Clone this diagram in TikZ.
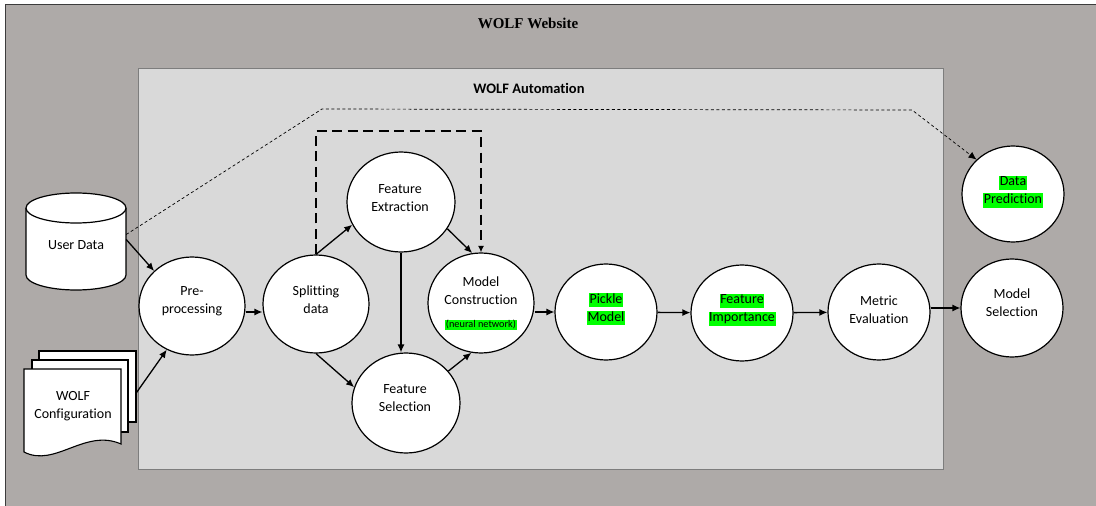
\documentclass[tikz,border=0pt]{standalone}
\usepackage{fontspec}
\setmainfont{Carlito}[Ligatures={NoCommon,NoRare}]
\newfontfamily\titlefont{Liberation Serif}
\usetikzlibrary{arrows.meta,fit,calc,shapes.geometric}

\definecolor{webgray}{RGB}{174,170,168}
\definecolor{autogray}{RGB}{217,217,217}
\definecolor{hlgreen}{RGB}{0,255,0}
\definecolor{frameline}{RGB}{60,60,60}
\definecolor{innerline}{RGB}{125,125,125}

% green text highlight, one box per line
\newcommand{\hl}[1]{{\setlength{\fboxsep}{0.6pt}\colorbox{hlgreen}{\rule[-3.7pt]{0pt}{12.2pt}#1}}}
\newcommand{\hlsmall}[1]{{\setlength{\fboxsep}{0.5pt}\colorbox{hlgreen}{\rule[-2pt]{0pt}{7pt}#1}}}

\begin{document}
\begin{tikzpicture}[x=1pt,y=-1pt,
  proc/.style={ellipse, draw=black, line width=1.2pt, fill=white, inner sep=0pt},
  txt/.style={align=center, font=\fontsize{14}{18}\selectfont, inner sep=0pt},
  arr/.style={-{Latex[length=8pt,width=7pt]}, line width=1.3pt},
  loopline/.style={line width=1.6pt, dash pattern=on 10pt off 5.5pt, -{Latex[length=6.5pt,width=6pt]}},
  webline/.style={line width=0.7pt, dash pattern=on 3pt off 2.5pt, -{Latex[length=8pt,width=7pt]}},
  docsheet/.style={draw=black, line width=1.1pt, fill=white}]

\useasboundingbox (0,0) rectangle (1096,506);
\clip (0,0) rectangle (1096,506);

% website frame and automation frame
\draw[frameline, line width=1pt, fill=webgray] (5,4) rectangle (1110,520);
\draw[innerline, line width=1pt, fill=autogray] (138,68) rectangle (943,469);

\node[font=\titlefont\bfseries\fontsize{15}{18}\selectfont] (webtitle) at (528,23) {WOLF Website};
\node[font=\bfseries\fontsize{14.5}{18}\selectfont] (autotitle) at (529,88) {WOLF Automation};

% user data cylinder
\fill[white] (26,208) rectangle (126,275);
\fill[white] (76,275) ellipse[x radius=50, y radius=15];
\draw[line width=1.2pt] (26,208) -- (26,275) arc[start angle=180, end angle=0, x radius=50, y radius=15] -- (126,208);
\draw[line width=1.2pt, fill=white] (76,208) ellipse[x radius=50, y radius=15];
\node[fit={(26,193) (126,290)}, inner sep=0pt] (userdata) {};
\node[txt] (userdata-t) at (76,245) {User Data};

% configuration document stack
\draw[docsheet] (39,351) rectangle (136,422);
\draw[docsheet] (32,360) rectangle (128,432);
\draw[docsheet] (24,369) -- (121,369) -- (121,444) .. controls (85,428) and (55,468) .. (24,452) -- cycle;
\node[fit={(24,351) (136,457)}, inner sep=0pt] (stack) {};
\node[txt] (stack-t) at (73,406) {WOLF\\Configuration};

% process ellipses
\node[proc, minimum width=106pt, minimum height=98pt] (pre) at (192,306) {};
\node[proc, minimum width=106pt, minimum height=98pt] (split) at (316,304) {};
\node[proc, minimum width=108pt, minimum height=100pt] (fext) at (401,202) {};
\node[proc, minimum width=106pt, minimum height=100pt] (mcon) at (481,303) {};
\node[proc, minimum width=108pt, minimum height=100pt] (fsel) at (406,403) {};
\node[proc, minimum width=102pt, minimum height=96pt] (pickle) at (606,312) {};
\node[proc, minimum width=102pt, minimum height=96pt] (fimp) at (742,313) {};
\node[proc, minimum width=102pt, minimum height=96pt] (metric) at (879,312) {};
\node[proc, minimum width=102pt, minimum height=98pt] (msel) at (1012,308) {};
\node[proc, minimum width=102pt, minimum height=96pt] (dpred) at (1013,194) {};

% labels inside the ellipses
\node[txt] (pre-t) at (192,301) {Pre-\\processing};
\node[txt] (split-t) at (316,300) {Splitting\\data};
\node[txt] (fext-t) at (400,198) {Feature\\Extraction};
\node[txt] (mcon-t) at (481,291) {Model\\Construction};
\node[inner sep=0pt, font=\fontsize{10.3}{12}\selectfont] (mcon-nn) at (481,325) {\hlsmall{(neural network)}};
\node[txt] (fsel-t) at (405,398) {Feature\\Selection};
\node[txt] (pickle-t) at (606,309) {\hl{Pickle}\\\hl{Model}};
\node[txt] (fimp-t) at (742,310) {\hl{Feature}\\\hl{Importance}};
\node[txt] (metric-t) at (879,310) {Metric\\Evaluation};
\node[txt] (msel-t) at (1012,303) {Model\\Selection};
\node[txt] (dpred-t) at (1013,192) {\hl{Data}\\\hl{Prediction}};

% connectors
\draw[arr] ([yshift=2pt]userdata.east) -- (pre.north west);
\draw[arr] ([yshift=11pt]stack.east) -- (pre.240);
\draw[arr] ([yshift=-6pt]pre.east) -- ([yshift=-6pt]pre.east -| split.west);
\draw[arr] (split.north) -- (fext.205);
\draw[arr] (split.south) -- (fsel.163);
\draw[arr] (fext.-30) -- (mcon.100);
\draw[arr] (fext.south) -- (fext.south |- fsel.north);
\draw[arr] (fsel.37) -- (mcon.259);
\draw[arr] ([yshift=-9pt]mcon.east) -- ([yshift=-9pt]mcon.east -| pickle.west);
\draw[arr] (pickle) -- (fimp);
\draw[arr] (fimp) -- (metric);
\draw[arr] ([yshift=4pt]metric.east) -- ([yshift=4pt]metric.east -| msel.west);

% feedback loop around feature extraction
\coordinate (looptop) at (481,131);
\draw[loopline] (split.north) |- (looptop) -- (mcon.north);

% prediction path from the user data
\coordinate (webbend1) at (322,109);
\coordinate (webbend2) at (912,110);
\draw[webline] ([yshift=7pt]userdata.east) -- (webbend1) -- (webbend2) -- (dpred.north west);

\end{tikzpicture}
\end{document}
